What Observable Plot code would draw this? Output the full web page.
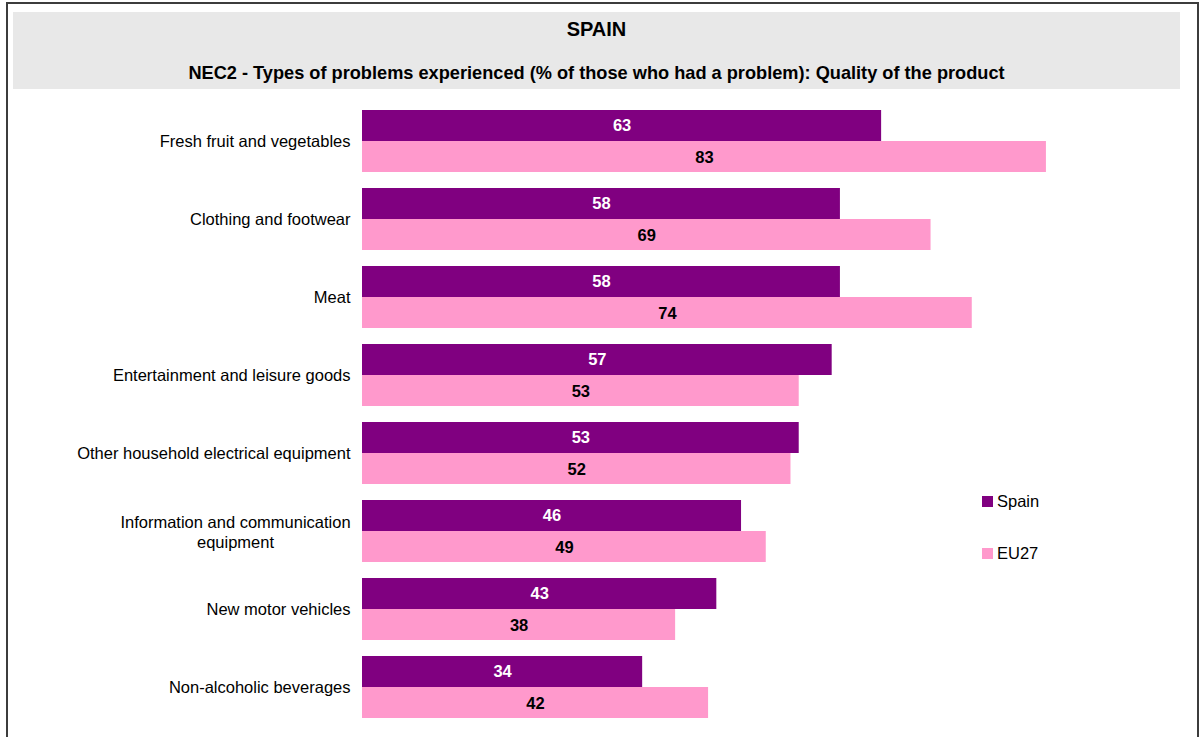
<!DOCTYPE html>
<html>
<head>
<meta charset="utf-8">
<script src="https://cdn.jsdelivr.net/npm/d3@7"></script>
<script src="https://cdn.jsdelivr.net/npm/@observablehq/plot@0.6"></script>
<style>
  body { margin: 0; background: #fff; font-family: "Liberation Sans", Arial, sans-serif; }
  #wrap { position: relative; width: 1200px; height: 737px; overflow: hidden; background: #fff; }
  #frame { position: absolute; left: 6px; top: 2px; width: 1193px; height: 800px; border: 2px solid #3c3c3c; box-sizing: border-box; pointer-events: none; }
  #head { position: absolute; left: 13px; top: 12px; width: 1167px; height: 77px; background: #e8e8e8; }
  .ht { position: absolute; left: 0; right: 0; text-align: center; font-weight: bold; color: #000; line-height: 1; }
  #title { top: 7px; font-size: 20px; }
  #subtitle { top: 52px; font-size: 18.2px; }
  #chart { position: absolute; left: 0; top: 0; }
  .leg { position: absolute; left: 982px; font-size: 16.5px; color: #000; line-height: 1; }
  .leg span.sw { position: absolute; left: 0; top: 3px; width: 11px; height: 11px; }
  .leg span.tx { position: absolute; left: 15px; top: 0; white-space: nowrap; }
</style>
</head>
<body>
<div id="wrap">
  <div id="chart"></div>
  <div id="head">
    <div class="ht" id="title"></div>
    <div class="ht" id="subtitle"></div>
  </div>
  <div id="legend"></div>
  <div id="frame"></div>
</div>
<script>
const titleText = "SPAIN";
const subtitleText = "NEC2 - Types of problems experienced (% of those who had a problem): Quality of the product";

const categories = [
  "Fresh fruit and vegetables",
  "Clothing and footwear",
  "Meat",
  "Entertainment and leisure goods",
  "Other household electrical equipment",
  "Information and communication equipment",
  "New motor vehicles",
  "Non-alcoholic beverages"
];
const series = ["Spain", "EU27"];
const colors = ["#800080", "#ff99cc"];
const spainValues = [63, 58, 58, 57, 53, 46, 43, 34];
const eu27Values = [83, 69, 74, 53, 52, 49, 38, 42];
const wrappedCategory = "Information and communication equipment";
const wrappedLabel = "Information and communication\nequipment";

document.getElementById("title").textContent = titleText;
document.getElementById("subtitle").textContent = subtitleText;

const rows = [];
categories.forEach((c, i) => {
  rows.push({category: c, series: "Spain", value: spainValues[i]});
  rows.push({category: c, series: "EU27", value: eu27Values[i]});
});

const font = "Liberation Sans, Arial, sans-serif";

const chart = Plot.plot({
  width: 1200,
  height: 737,
  marginLeft: 362,
  marginRight: 14,
  marginTop: 102,
  marginBottom: 11,
  style: {fontFamily: font, background: "transparent", overflow: "visible"},
  x: {domain: [0, 100], axis: null},
  y: {domain: series, axis: null, padding: 0},
  fy: {domain: categories, paddingInner: 16 / 78, paddingOuter: 8 / 78, axis: null, label: null},
  color: {domain: series, range: colors},
  marks: [
    Plot.barX(rows, {fy: "category", y: "series", x: "value", fill: "series"}),
    Plot.text(rows.filter(d => d.series === "Spain"), {
      fy: "category", y: "series", x: d => d.value / 2, text: d => String(d.value),
      fill: "#ffffff", fontWeight: "bold", fontSize: 16.5, fontFamily: font
    }),
    Plot.text(rows.filter(d => d.series === "EU27"), {
      fy: "category", y: "series", x: d => d.value / 2, text: d => String(d.value),
      fill: "#000000", fontWeight: "bold", fontSize: 16.5, fontFamily: font, dy: 1
    }),
    Plot.text(categories.filter(c => c !== wrappedCategory), {
      fy: d => d, text: d => d, frameAnchor: "left", textAnchor: "end", dx: -12,
      fill: "#000000", fontSize: 16.5, fontFamily: font
    }),
    Plot.text(categories.filter(c => c === wrappedCategory), {
      fy: d => d, text: () => wrappedLabel, frameAnchor: "left", textAnchor: "middle", dx: -127,
      lineHeight: 1.22, fill: "#000000", fontSize: 16.5, fontFamily: font
    })
  ]
});
document.getElementById("chart").appendChild(chart);

const legendTops = [493, 545];
const legend = document.getElementById("legend");
series.forEach((s, i) => {
  const d = document.createElement("div");
  d.className = "leg";
  d.style.top = legendTops[i] + "px";
  d.innerHTML = `<span class="sw" style="background:${colors[i]}"></span><span class="tx">${s}</span>`;
  legend.appendChild(d);
});
</script>
</body>
</html>
